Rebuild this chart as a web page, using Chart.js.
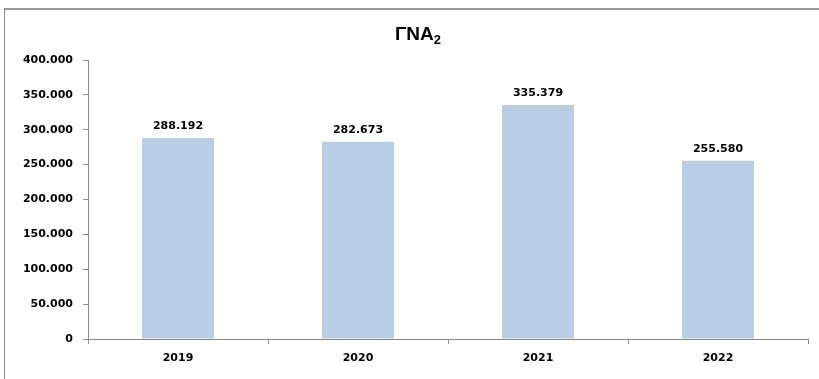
<!DOCTYPE html>
<html>
<head>
<meta charset="utf-8">
<script src="https://cdn.jsdelivr.net/npm/chart.js@4/dist/chart.umd.min.js"></script>
<style>
  html, body { margin: 0; padding: 0; background: #fff; }
  #wrap { position: relative; width: 819px; height: 379px; overflow: hidden; }
  #frame {
    position: absolute; left: 4px; top: 8px; right: -4px; bottom: -4px;
    border-top: 2px solid #9a9a9a; border-left: 1px solid #8a8a8a;
  }
  #title {
    position: absolute; left: 0; width: 836px; top: 23px; text-align: center;
    font: bold 19px "Liberation Sans", Arial, sans-serif; color: #000;
  }
  #title sub { font-size: 13px; vertical-align: -4px; line-height: 0; }
  #chart { position: absolute; left: 0; top: 0; }
</style>
</head>
<body>
<div id="wrap">
  <div id="frame"></div>
  <canvas id="chart" width="819" height="379"></canvas>
  <div id="title">ΓΝΑ<sub>2</sub></div>
</div>
<script>
// ----------------------------------------------------------------------
// data
// ----------------------------------------------------------------------
const YEARS = ['2019', '2020', '2021', '2022'];
const VALUES = [288192, 282673, 335379, 255580];
const Y_TICKS = [0, 50000, 100000, 150000, 200000, 250000, 300000, 350000, 400000];

const BAR_COLOR = '#b9cde5';
const AXIS_COLOR = '#8c8c8c';
const TICK_FONT = { family: '"DejaVu Sans", Verdana, sans-serif', size: 11, weight: 'bold' };

// 288192 -> "288.192"
function fmt(v) {
  return String(v).replace(/\B(?=(\d{3})+(?!\d))/g, '.');
}

// value labels above each bar
const valueLabels = {
  id: 'valueLabels',
  afterDatasetsDraw(chart) {
    const ctx = chart.ctx;
    const meta = chart.getDatasetMeta(0);
    ctx.save();
    ctx.font = 'bold 11px "DejaVu Sans", Verdana, sans-serif';
    ctx.fillStyle = '#000';
    ctx.textAlign = 'center';
    ctx.textBaseline = 'bottom';
    meta.data.forEach((bar, i) => {
      ctx.fillText(fmt(VALUES[i]), bar.x, bar.y - 6);
    });
    ctx.restore();
  }
};

const ctx = document.getElementById('chart').getContext('2d');

new Chart(ctx, {
  type: 'bar',
  data: {
    labels: YEARS,
    datasets: [{
      data: VALUES,
      backgroundColor: BAR_COLOR,
      borderWidth: 0,
      categoryPercentage: 1,
      barPercentage: 0.4
    }]
  },
  options: {
    responsive: false,
    animation: false,
    layout: { padding: { top: 60, right: 11, bottom: 0, left: 0 } },
    plugins: {
      legend: { display: false },
      tooltip: { enabled: false }
    },
    scales: {
      x: {
        grid: { drawOnChartArea: false, drawTicks: true, tickLength: 5, color: AXIS_COLOR, offset: true },
        border: { color: AXIS_COLOR, width: 1 },
        ticks: { color: '#000', font: TICK_FONT, padding: 8 },
        afterFit(scale) { scale.height = 40; }
      },
      y: {
        min: 0,
        max: 400000,
        afterBuildTicks(scale) { scale.ticks = Y_TICKS.map(v => ({ value: v })); },
        grid: { drawOnChartArea: false, drawTicks: true, tickLength: 5, color: AXIS_COLOR },
        border: { color: AXIS_COLOR, width: 1 },
        ticks: { color: '#000', font: TICK_FONT, padding: 10, callback: v => fmt(v) },
        afterFit(scale) { scale.width = 88; }
      }
    }
  },
  plugins: [valueLabels]
});
</script>
</body>
</html>
